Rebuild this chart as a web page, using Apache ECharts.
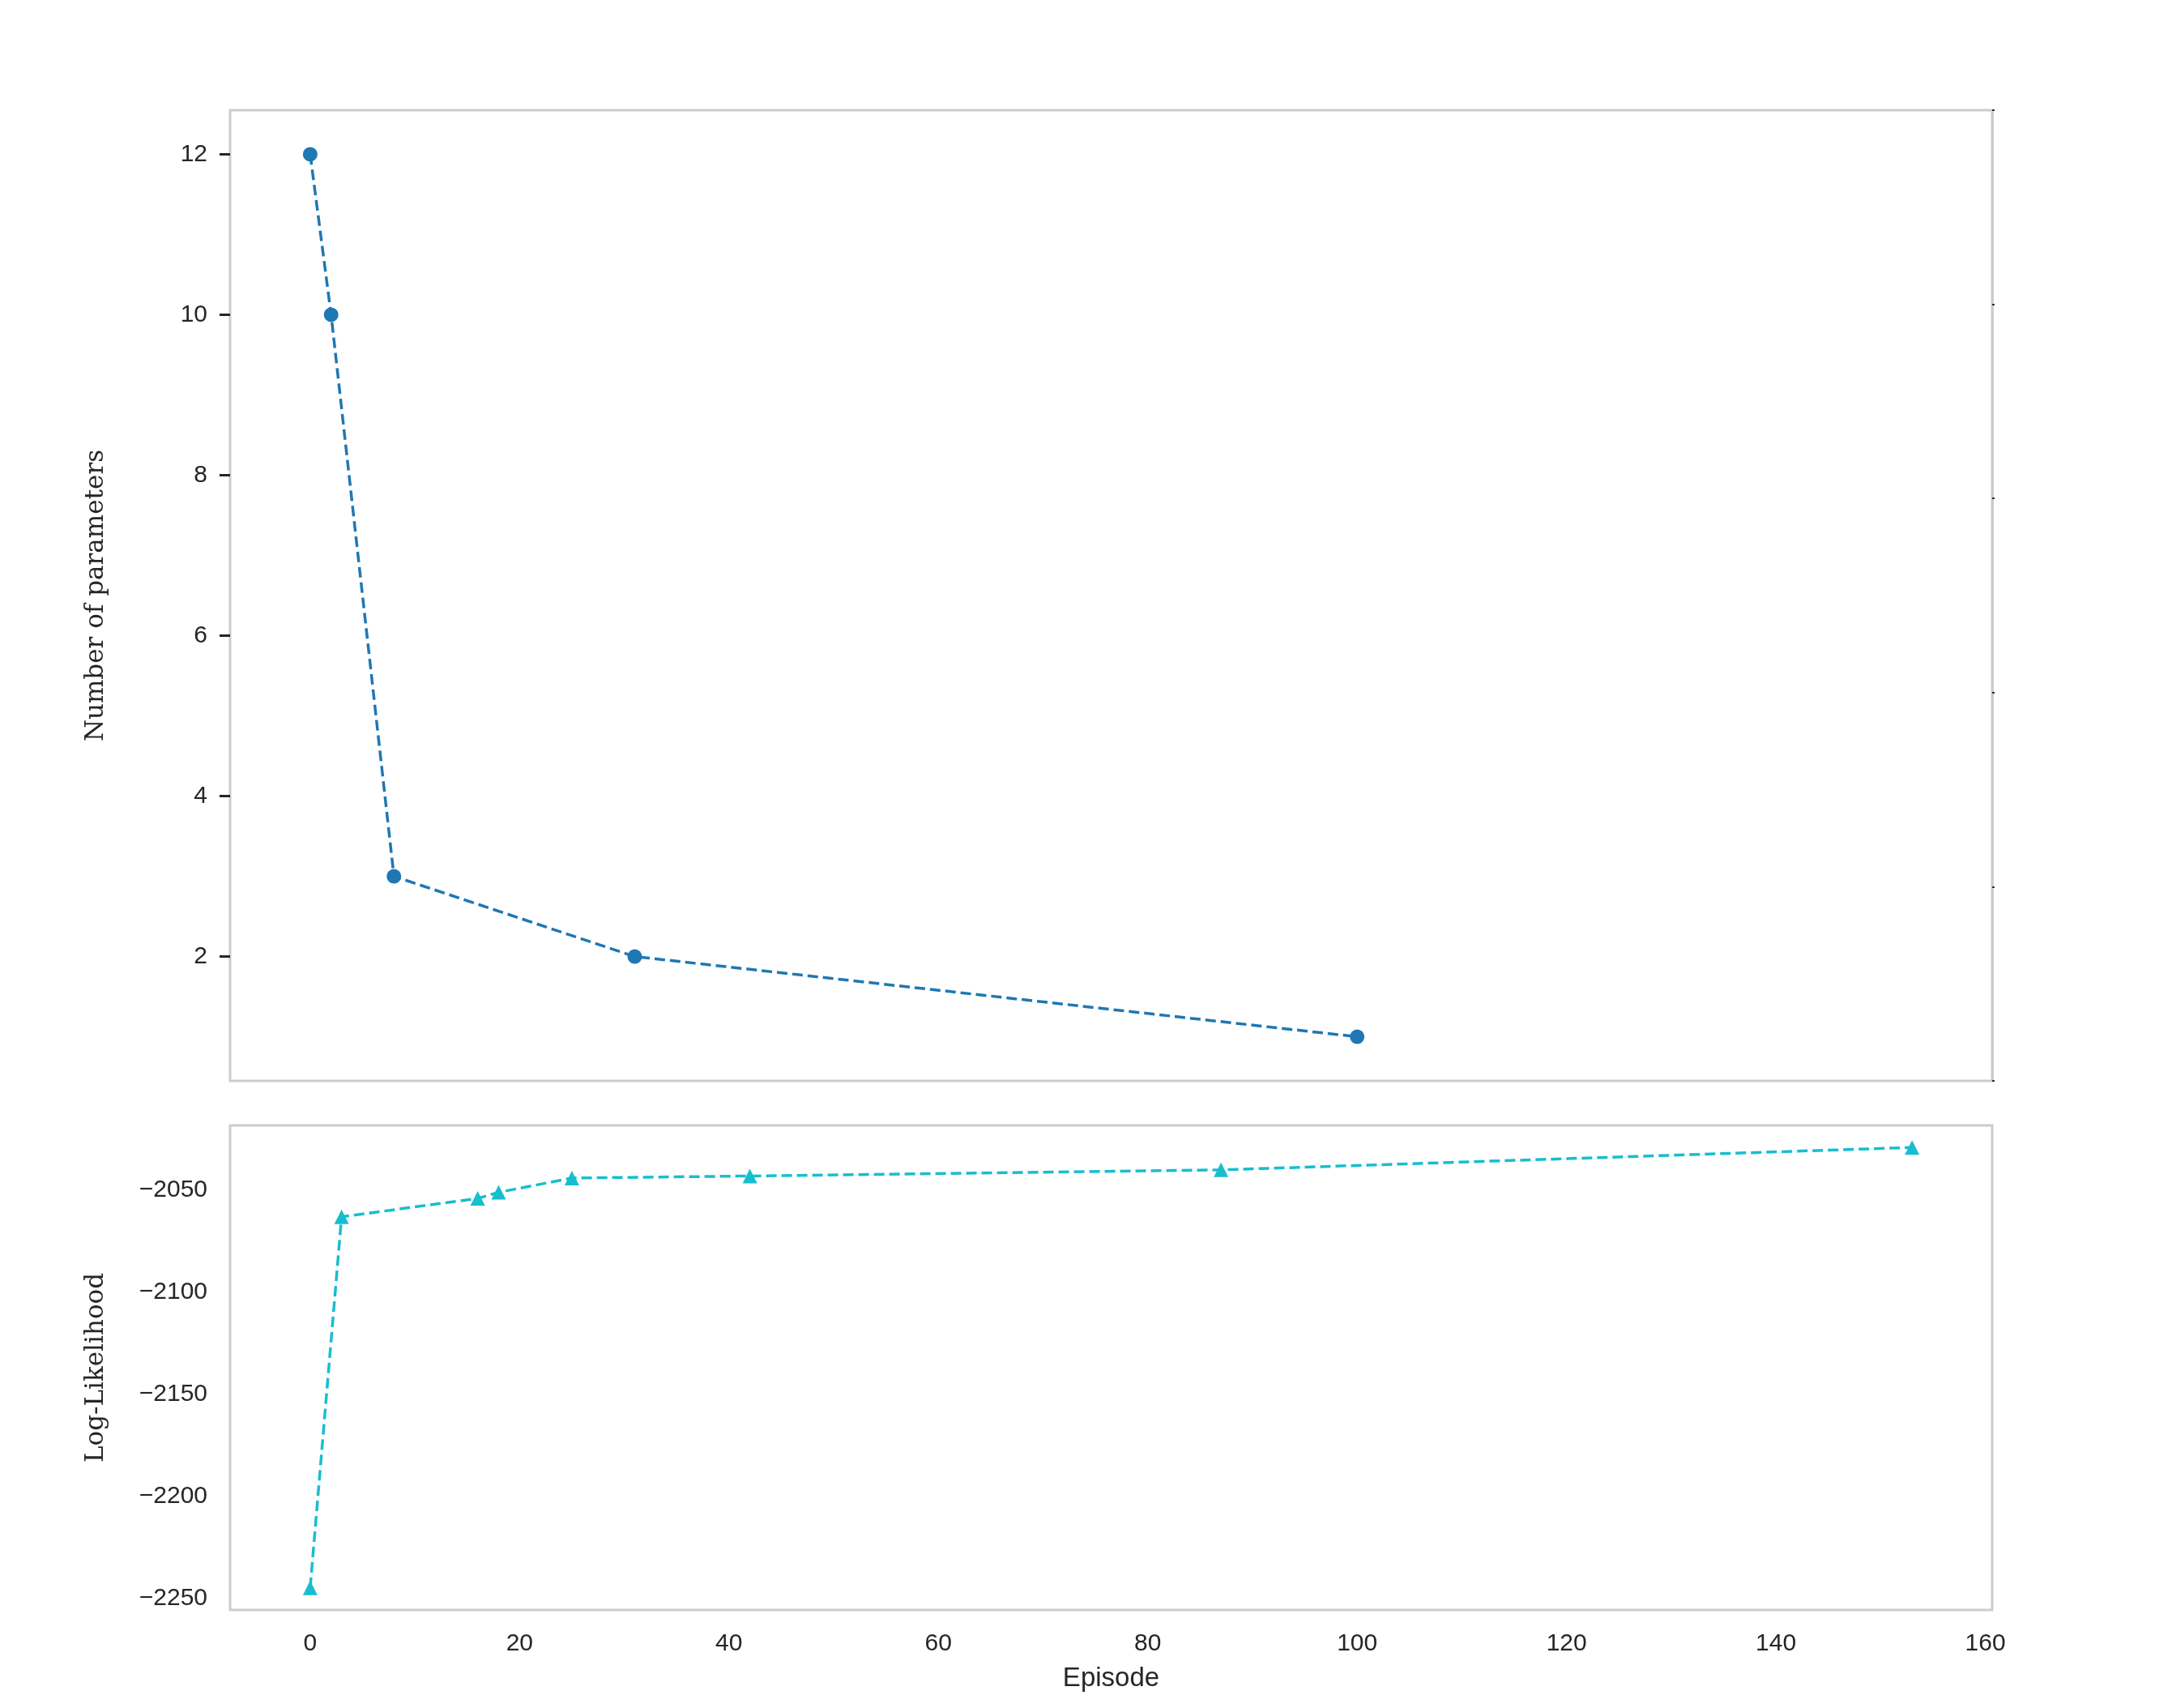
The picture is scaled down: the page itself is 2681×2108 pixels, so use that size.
<!DOCTYPE html>
<html>
<head>
<meta charset="utf-8">
<script src="https://cdn.jsdelivr.net/npm/echarts@6/dist/echarts.min.js"></script>
<style>
html,body{margin:0;padding:0;background:#fff;}
#chart{width:2681px;height:2108px;}
</style>
</head>
<body>
<div id="chart"></div>
<script>
// ---- data ----
const episodesParams = [0, 2, 8, 31, 100];
const numParams = [12, 10, 3, 2, 1];
const episodesLL = [0, 3, 16, 18, 25, 42, 87, 153];
const logLik = [-2245, -2063, -2054, -2051, -2044, -2043, -2040, -2029];
const xTicks = [0, 20, 40, 60, 80, 100, 120, 140, 160];
const yTicksTop = [2, 4, 6, 8, 10, 12];
const yTicksBottom = [-2250, -2200, -2150, -2100, -2050];
const xLabel = 'Episode';
const yLabelTop = 'Number of parameters';
const yLabelBottom = 'Log-Likelihood';

// matplotlib-like 5% margins
function pad(arr) {
  const lo = Math.min(...arr), hi = Math.max(...arr), m = (hi - lo) * 0.05;
  return [lo - m, hi + m];
}
const xr = pad(episodesLL.concat(episodesParams));
const ytr = pad(numParams);
const ybr = pad(logLik);

const fmt = v => String(v).replace('-', '\u2212');
const tickFont = {fontFamily: '"Liberation Sans", Arial, sans-serif', fontSize: 30, color: '#262626'};
const nameFont = {fontFamily: '"DejaVu Serif", serif', fontSize: 31, color: '#262626'};
const border = '#cccccc';

const chart = echarts.init(document.getElementById('chart'), null, {renderer: 'canvas'});
chart.setOption({
  backgroundColor: '#ffffff',
  animation: false,
  grid: [
    {left: 284, top: 136, width: 2175, height: 1198, show: true, borderColor: border, borderWidth: 3, containLabel: false},
    {left: 284, top: 1389, width: 2175, height: 598, show: true, borderColor: border, borderWidth: 3, containLabel: false}
  ],
  xAxis: [
    {type: 'value', gridIndex: 0, min: xr[0], max: xr[1],
      axisLine: {show: false, onZero: false}, axisTick: {show: false}, axisLabel: {show: false}, splitLine: {show: false}},
    {type: 'value', gridIndex: 1, min: xr[0], max: xr[1],
      axisLine: {show: false, onZero: false}, axisTick: {show: false}, splitLine: {show: false},
      axisLabel: Object.assign({show: true, margin: 27, customValues: xTicks, formatter: fmt}, tickFont),
      name: xLabel, nameLocation: 'middle', nameGap: 68,
      nameTextStyle: {fontFamily: '"Liberation Sans", Arial, sans-serif', fontSize: 33, color: '#262626'}}
  ],
  yAxis: [
    {type: 'value', gridIndex: 0, min: ytr[0], max: ytr[1],
      axisLine: {show: false, onZero: false}, splitLine: {show: false},
      axisTick: {show: true, length: 13, customValues: yTicksTop, lineStyle: {color: '#262626', width: 3}},
      axisLabel: Object.assign({show: true, margin: 28, customValues: yTicksTop, formatter: fmt}, tickFont),
      name: yLabelTop, nameLocation: 'middle', nameGap: 150, nameRotate: 90, nameTextStyle: nameFont},
    {type: 'value', gridIndex: 0, position: 'right', min: 0, max: 1, interval: 0.2,
      axisLine: {show: true, onZero: false, lineStyle: {color: border, width: 3}}, splitLine: {show: false},
      axisTick: {show: true, length: 3, lineStyle: {color: '#333', width: 2}},
      axisLabel: {show: false}},
    {type: 'value', gridIndex: 1, min: ybr[0], max: ybr[1],
      axisLine: {show: false, onZero: false}, splitLine: {show: false}, axisTick: {show: false},
      axisLabel: Object.assign({show: true, margin: 28, customValues: yTicksBottom, formatter: fmt}, tickFont),
      name: yLabelBottom, nameLocation: 'middle', nameGap: 150, nameRotate: 90, nameTextStyle: nameFont}
  ],
  series: [
    {type: 'line', xAxisIndex: 0, yAxisIndex: 0,
      data: episodesParams.map((x, i) => [x, numParams[i]]),
      symbol: 'circle', symbolSize: 18,
      itemStyle: {color: '#1f77b4'},
      lineStyle: {color: '#1f77b4', width: 3.5, type: [13, 6]}},
    {type: 'line', xAxisIndex: 1, yAxisIndex: 2,
      data: episodesLL.map((x, i) => [x, logLik[i]]),
      symbol: 'triangle', symbolSize: 18,
      itemStyle: {color: '#17becf'},
      lineStyle: {color: '#17becf', width: 3.5, type: [13, 6]}}
  ]
});
</script>
</body>
</html>
